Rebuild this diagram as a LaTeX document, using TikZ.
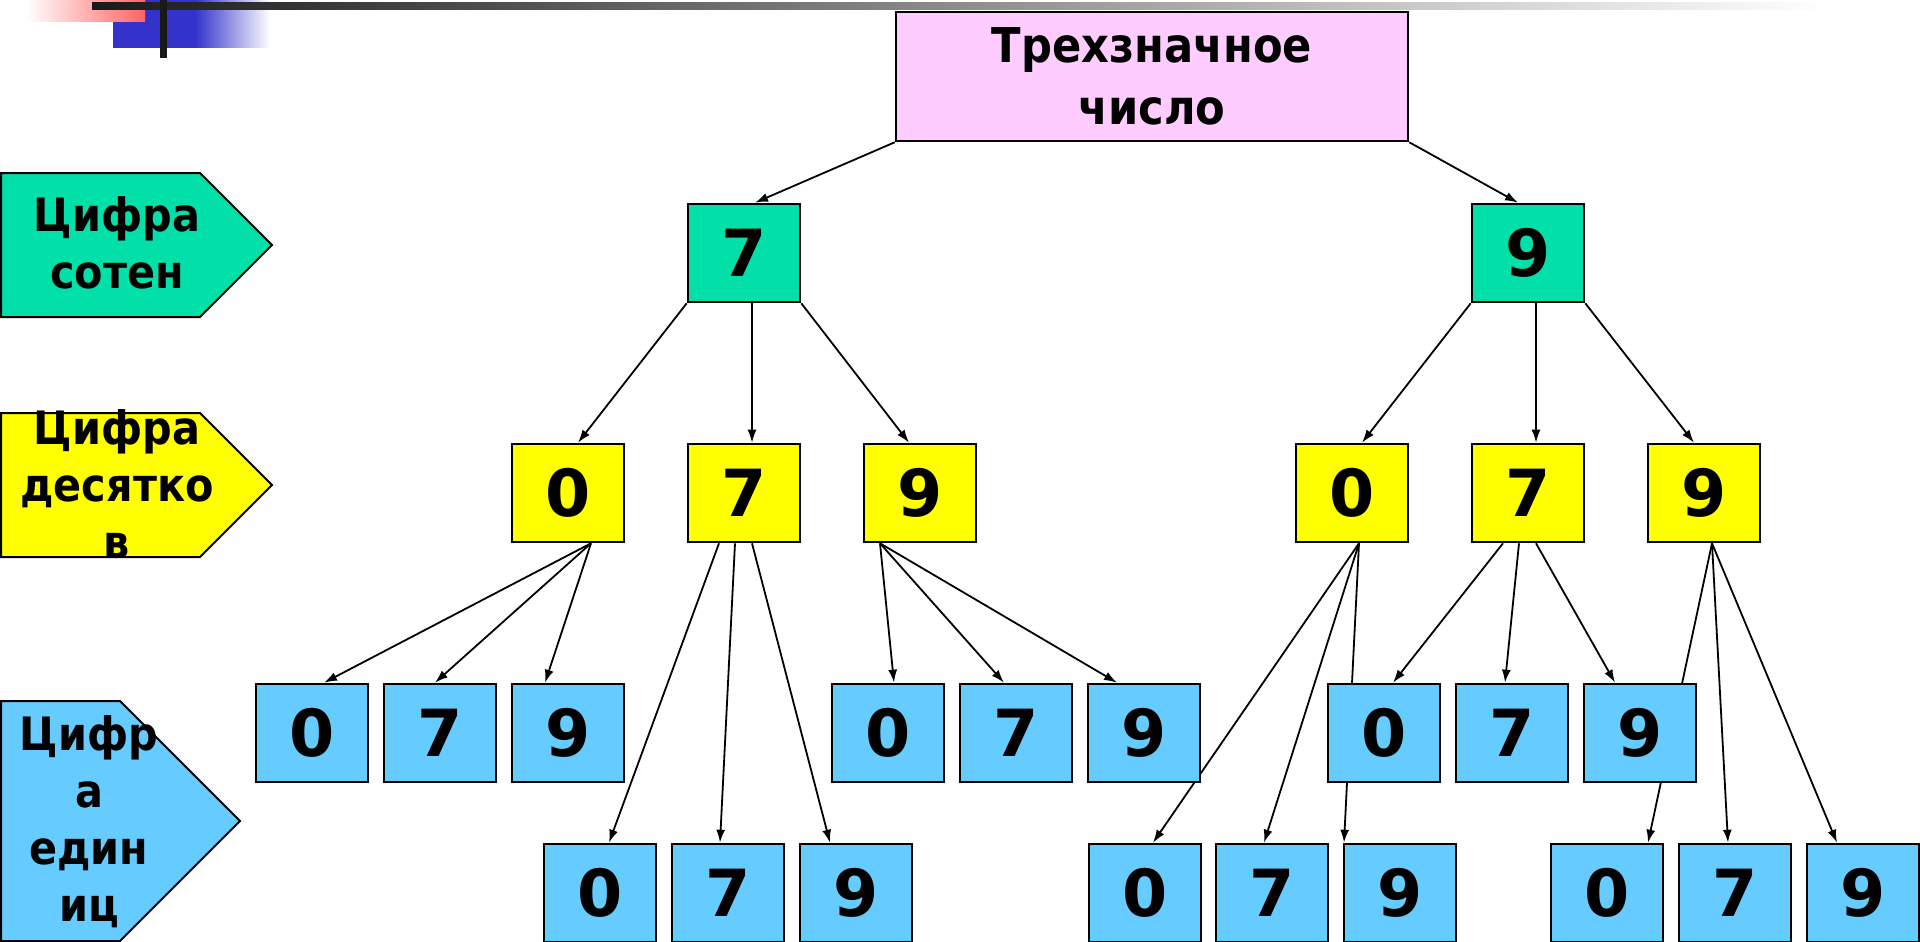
\documentclass[tikz,border=0pt]{standalone}
\usepackage{fontspec}
\setmainfont{DejaVu Sans Condensed}
\newfontfamily\digitfont{DejaVu Sans}
\usetikzlibrary{arrows.meta}
\definecolor{rootpink}{RGB}{255,204,255}
\definecolor{hundgreen}{RGB}{0,224,168}
\definecolor{tenyellow}{RGB}{255,255,0}
\definecolor{unitblue}{RGB}{102,204,255}
\definecolor{decoblue}{RGB}{51,51,204}
\definecolor{decored}{RGB}{255,100,100}
\pgfdeclarelayer{back}
\pgfsetlayers{back,main}
\tikzset{
  digit/.style={draw,line width=2.6pt,minimum width=112pt,minimum height=98pt,inner sep=0pt,font=\digitfont\fontsize{65}{65}\selectfont\bfseries},
  hund/.style={digit,fill=hundgreen},
  ten/.style={digit,fill=tenyellow},
  unit/.style={digit,fill=unitblue},
  lbl/.style={align=center,inner sep=0pt,font=\fontsize{46}{57}\selectfont\bfseries},
  tag/.style={draw,line width=2pt},
  link/.style={line width=1.8pt,-{Latex[length=13pt,width=9pt]}}
}
\begin{document}
\begin{tikzpicture}[x=1pt,y=-1pt]
\useasboundingbox (0,0) rectangle (1920,942);
% corner decoration
\fill[decoblue] (113,0) rectangle (195,48);
\shade[left color=decoblue,right color=white] (195,0) rectangle (270,48);
\shade[left color=white,right color=decored] (26,0) rectangle (145,22);
\shade[left color=black!90,right color=white] (92,3) rectangle (1824,10);
\fill[black!90] (160,0) rectangle (167,58);

% level tags
\draw[tag,fill=hundgreen] (1,173) -- (200,173) -- (272,245) -- (200,317) -- (1,317) -- cycle;
\node[lbl] (taghund) at (117,243) {Цифра\\сотен};
\draw[tag,fill=tenyellow] (1,413) -- (200,413) -- (272,485) -- (200,557) -- (1,557) -- cycle;
\node[lbl] (tagten) at (117,484) {Цифра\\десятко\\в};
\draw[tag,fill=unitblue] (1,701) -- (120,701) -- (240,821) -- (120,941) -- (1,941) -- cycle;
\node[lbl] (tagunit) at (89,822) {Цифр\\а\\един\\иц};

% tree
\node[draw,line width=2.5pt,fill=rootpink,minimum width=512pt,minimum height=129pt,align=center,
      font=\fontsize{48}{62}\selectfont\bfseries] (root) at (1152,76.5) {Трехзначное\\число};

\node[hund] (h7) at (744,253) {7};
\node[hund] (h9) at (1528,253) {9};

\node[ten] (t70) at (568,493) {0};
\node[ten] (t77) at (744,493) {7};
\node[ten] (t79) at (920,493) {9};
\node[ten] (t90) at (1352,493) {0};
\node[ten] (t97) at (1528,493) {7};
\node[ten] (t99) at (1704,493) {9};

\node[unit] (u700) at (312,733) {0};
\node[unit] (u707) at (440,733) {7};
\node[unit] (u709) at (568,733) {9};
\node[unit] (u790) at (888,733) {0};
\node[unit] (u797) at (1016,733) {7};
\node[unit] (u799) at (1144,733) {9};
\node[unit] (u970) at (1384,733) {0};
\node[unit] (u977) at (1512,733) {7};
\node[unit] (u979) at (1640,733) {9};

\node[unit] (u770) at (600,893) {0};
\node[unit] (u777) at (728,893) {7};
\node[unit] (u779) at (856,893) {9};
\node[unit] (u900) at (1145,893) {0};
\node[unit] (u907) at (1272,893) {7};
\node[unit] (u909) at (1400,893) {9};
\node[unit] (u990) at (1607,893) {0};
\node[unit] (u997) at (1735,893) {7};
\node[unit] (u999) at (1863,893) {9};

\begin{pgfonlayer}{back}
\draw[link] (root.south west) -- ([xshift=11pt]h7.north);
\draw[link] (root.south east) -- ([xshift=-10pt]h9.north);

\draw[link] (h7.south west) -- ([xshift=10pt]t70.north);
\draw[link] ([xshift=8pt]h7.south) -- ([xshift=8pt]t77.north);
\draw[link] (h7.south east) -- ([xshift=-11pt]t79.north);
\draw[link] (h9.south west) -- ([xshift=10pt]t90.north);
\draw[link] ([xshift=8pt]h9.south) -- ([xshift=8pt]t97.north);
\draw[link] (h9.south east) -- ([xshift=-10pt]t99.north);

\foreach \s/\d/\e in {23/u700/12, 23/u707/-5, 23/u709/-23}
  \draw[link] ([xshift=\s pt]t70.south) -- ([xshift=\e pt]\d.north);
\foreach \s/\d/\e in {-25/u770/9, -9/u777/-8, 8/u779/-26}
  \draw[link] ([xshift=\s pt]t77.south) -- ([xshift=\e pt]\d.north);
\foreach \s/\d/\e in {-40/u790/6, -40/u797/-12, -40/u799/-27}
  \draw[link] ([xshift=\s pt]t79.south) -- ([xshift=\e pt]\d.north);
\foreach \s/\d/\e in {7/u900/8, 7/u907/-8, 7/u909/-56}
  \draw[link] ([xshift=\s pt]t90.south) -- ([xshift=\e pt]\d.north);
\foreach \s/\d/\e in {-25/u970/9, -9/u977/-7, 8/u979/-25}
  \draw[link] ([xshift=\s pt]t97.south) -- ([xshift=\e pt]\d.north);
\foreach \s/\d/\e in {8/u990/41, 8/u997/-7, 8/u999/-26}
  \draw[link] ([xshift=\s pt]t99.south) -- ([xshift=\e pt]\d.north);
\end{pgfonlayer}
\end{tikzpicture}
\end{document}
